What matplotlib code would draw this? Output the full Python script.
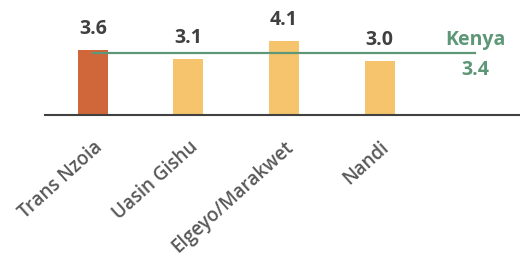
import matplotlib
matplotlib.use("Agg")
import matplotlib.pyplot as plt

categories = ["Trans Nzoia", "Uasin Gishu", "Elgeyo/Marakwet", "Nandi"]
values = [3.6, 3.1, 4.1, 3.0]
colors = ["#D0673B", "#F5C46C", "#F5C46C", "#F5C46C"]
kenya_label = "Kenya"
kenya_value = 3.4

plt.rcParams['font.family'] = ['Open Sans', 'DejaVu Sans']

fig = plt.figure(figsize=(5.2, 2.68), dpi=100)
W, H = 520, 268
# axes: x from 45 to 520 px, baseline at y=115, top at ~26
ax = fig.add_axes([45 / W, (H - 115) / H, (520 - 45) / W, (115 - 26) / H])

x = list(range(len(categories)))
ax.bar(x, values, width=0.314, color=colors, zorder=2)
for xi, v in zip(x, values):
    ax.annotate(f"{v:.1f}", (xi, v), xytext=(0, 7.5), textcoords="offset points",
                ha="center", va="bottom", fontsize=14, fontweight="bold", color="#404040")

ax.plot([0, len(categories)], [kenya_value, kenya_value], color="#5E9777", lw=1.6, zorder=3)
ax.annotate(kenya_label, (len(categories), kenya_value), xytext=(0, 2), textcoords="offset points",
            ha="center", va="bottom", fontsize=14, fontweight="bold", color="#5E9777")
ax.annotate(f"{kenya_value:.1f}", (len(categories), kenya_value), xytext=(0, -5), textcoords="offset points",
            ha="center", va="top", fontsize=14, fontweight="bold", color="#5E9777")

ax.set_xlim(-0.5, 4.47)
ax.set_ylim(0, 4.9)
ax.set_xticks(x)
ax.set_xticklabels(categories, rotation=42, ha="right", rotation_mode="anchor",
                   fontsize=13.5, fontweight="semibold", color="#595959")
ax.tick_params(axis="x", length=0, pad=16)
ax.set_yticks([])
for s in ["top", "right", "left"]:
    ax.spines[s].set_visible(False)
ax.spines["bottom"].set_color("#404040")
ax.spines["bottom"].set_linewidth(1.5)

fig.savefig("out.png", dpi=100)
